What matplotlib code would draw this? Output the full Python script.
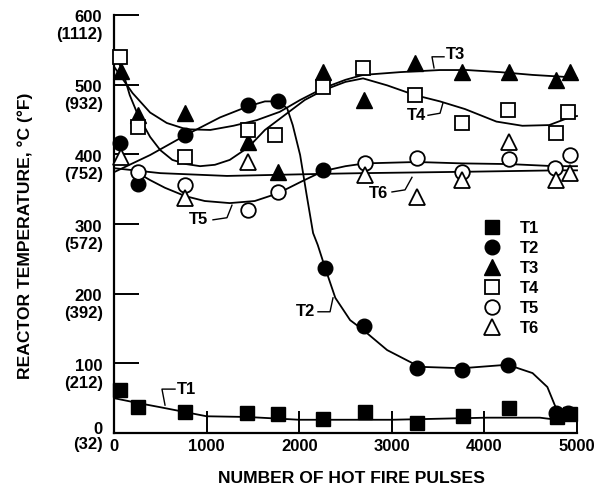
import matplotlib
matplotlib.use("Agg")
import matplotlib.pyplot as plt
import matplotlib.transforms as mtransforms
from matplotlib.lines import Line2D

plt.rcParams['font.family'] = ['Liberation Sans', 'DejaVu Sans']

# ---------------- data ----------------
t1_x = [60, 260, 770, 1440, 1770, 2260, 2710, 3270, 3770, 4270, 4780, 4920]
t1_y = [62, 37, 30, 29, 27, 20, 30, 14, 24, 36, 23, 27]

t2_x = [60, 260, 770, 1450, 1770, 2260, 2280, 2700, 3270, 3760, 4260, 4770, 4900]
t2_y = [416, 357, 428, 471, 476, 377, 237, 154, 93, 90, 97, 29, 29]

t3_x = [80, 260, 770, 1450, 1770, 2260, 2700, 3250, 3760, 4270, 4770, 4920]
t3_y = [519, 456, 459, 418, 375, 518, 478, 531, 518, 518, 507, 518]

t4_x = [60, 260, 770, 1450, 1740, 2260, 2690, 3250, 3760, 4260, 4770, 4900]
t4_y = [540, 439, 396, 435, 428, 497, 524, 485, 445, 464, 430, 461]

t5_x = [260, 770, 1450, 1770, 2710, 3270, 3760, 4270, 4760, 4920]
t5_y = [375, 356, 320, 346, 387, 395, 375, 393, 380, 399]

t6_x = [80, 770, 1450, 2710, 3270, 3760, 4270, 4770, 4920]
t6_y = [396, 337, 389, 370, 339, 363, 418, 363, 373]

# hand-drawn fit curves
c1_x = [0, 260, 500, 770, 1000, 1440, 2000, 2440, 3000, 4030, 4600, 4780]
c1_y = [50, 43, 37, 30, 24, 23, 19, 19, 19, 22, 22, 19]

c2_x = [10, 390, 780, 1145, 1450, 1630, 1770, 1870, 1930, 2010, 2080, 2150, 2200,
        2280, 2390, 2550, 2690, 2950, 3300, 3760, 4250, 4520, 4680, 4760, 4800]
c2_y = [375, 399, 428, 453, 469, 476, 476, 466, 442, 399, 342, 287, 270,
        237, 194, 162, 148, 119, 95, 93, 98, 86, 66, 40, 29]

c3_x = [10, 200, 390, 570, 780, 1040, 1290, 1540, 1790, 2010, 2260, 2500, 2690,
        3090, 3520, 3810, 4170, 4520, 4890, 5000]
c3_y = [524, 488, 460, 445, 436, 435, 441, 449, 461, 478, 495, 507, 514,
        518, 521, 521, 518, 514, 511, 509]

c4_x = [10, 90, 170, 260, 390, 500, 630, 780, 930, 1090, 1250, 1450, 1630, 1870,
        2060, 2260, 2500, 2690, 2950, 3250, 3520, 3790, 4130, 4410, 4700, 4920, 5000]
c4_y = [542, 521, 485, 456, 425, 406, 392, 386, 383, 385, 392, 410, 435, 459,
        478, 492, 504, 509, 499, 485, 476, 465, 447, 441, 442, 453, 455]

c5_x = [260, 390, 550, 770, 980, 1250, 1520, 1770, 2010, 2260, 2500, 2710, 3270,
        3760, 4270, 4760, 5000]
c5_y = [373, 363, 352, 340, 333, 330, 333, 344, 360, 376, 383, 387, 389,
        387, 386, 383, 383]

c6_x = [10, 500, 1220, 2260, 2690, 3810, 4780, 5000]
c6_y = [380, 373, 369, 372, 373, 375, 377, 377]

series_names = ['T1', 'T2', 'T3', 'T4', 'T5', 'T6']

yticks = [0, 100, 200, 300, 400, 500, 600]
ytick_c = ['0', '100', '200', '300', '400', '500', '600']
ytick_f = ['(32)', '(212)', '(392)', '(572)', '(752)', '(932)', '(1112)']
xticks = [0, 1000, 2000, 3000, 4000, 5000]
xtick_labels = ['0', '1000', '2000', '3000', '4000', '5000']

# curve label positions (text anchor, leader polyline)
lab_t1 = (680, 63)
lead_t1 = ([551, 518, 659], [40, 63, 63])
lab_t2 = (2171, 174)
lead_t2 = ([2203, 2333, 2365], [174, 174, 194])
lab_t3 = (3586, 544)
lead_t3 = ([3456, 3434, 3564], [524, 540, 540])
lab_t4 = (3370, 456)
lead_t4 = ([3391, 3521, 3553], [456, 459, 474])
lab_t5 = (1015, 306)
lead_t5 = ([1069, 1220, 1274], [306, 309, 327])
lab_t6 = (2959, 344)
lead_t6 = ([3002, 3143, 3218], [346, 349, 367])

# ---------------- figure ----------------
W, H = 608, 490
fig = plt.figure(figsize=(W / 100, H / 100), dpi=100)
ax = fig.add_axes([114 / W, 1 - 433 / H, (577 - 114) / W, (433 - 15) / H])
ax.set_xlim(0, 5000)
ax.set_ylim(0, 600)
for s in ['top', 'right']:
    ax.spines[s].set_visible(False)
for s in ['left', 'bottom']:
    ax.spines[s].set_linewidth(1.6)
    ax.spines[s].set_color('black')

ax.set_xticks(xticks[1:])
ax.set_xticklabels([])
ax.set_yticks(yticks[1:])
ax.set_yticklabels([])
ax.tick_params(axis='x', direction='in', length=16, width=1.4)
ax.tick_params(axis='y', direction='in', length=18, width=1.4)

fs = 12
fs_lab = 12.6
fw = 'bold'
# x tick labels
for v, t in zip(xticks, xtick_labels):
    ax.text(v, -13 / 418 * 600, t, ha='center', va='center', fontsize=fs, fontweight=fw)

# y tick labels (°C and °F lines)
blend = mtransforms.blended_transform_factory(ax.transAxes, ax.transData)
for v, c, f in zip(yticks, ytick_c, ytick_f):
    if v == 0:
        dy_c, dy_f = -4, 11
    else:
        dy_c, dy_f = 3, 20
    tr_c = blend + mtransforms.ScaledTranslation(-12 / 100, -dy_c / 100, fig.dpi_scale_trans)
    tr_f = blend + mtransforms.ScaledTranslation(-11 / 100, -dy_f / 100, fig.dpi_scale_trans)
    ax.text(0, v, c, transform=tr_c, ha='right', va='center', fontsize=fs, fontweight=fw)
    ax.text(0, v, f, transform=tr_f, ha='right', va='center', fontsize=fs, fontweight=fw)

fig.text(352 / W, 1 - 478 / H, 'NUMBER OF HOT FIRE PULSES', ha='center', va='center',
         fontsize=fs_lab, fontweight=fw)
fig.text(25 / W, 1 - 236 / H, 'REACTOR TEMPERATURE, °C (°F)', ha='center', va='center',
         rotation=90, fontsize=fs_lab, fontweight=fw)

# curves
lw = 1.3
for cx, cy in [(c1_x, c1_y), (c2_x, c2_y), (c3_x, c3_y), (c4_x, c4_y), (c5_x, c5_y), (c6_x, c6_y)]:
    ax.plot(cx, cy, color='black', lw=lw, zorder=2, clip_on=False)

# markers
ms = 10
ax.plot(t1_x, t1_y, ls='none', marker='s', ms=ms, mfc='black', mec='black', zorder=3, clip_on=False)
ax.plot(t2_x, t2_y, ls='none', marker='o', ms=ms + 0.5, mfc='black', mec='black', zorder=3, clip_on=False)
ax.plot(t3_x, t3_y, ls='none', marker='^', ms=ms + 1, mfc='black', mec='black', zorder=3, clip_on=False)
ax.plot(t4_x, t4_y, ls='none', marker='s', ms=ms, mfc='white', mec='black', mew=1.3, zorder=3, clip_on=False)
ax.plot(t5_x, t5_y, ls='none', marker='o', ms=ms + 0.5, mfc='white', mec='black', mew=1.3, zorder=3, clip_on=False)
ax.plot(t6_x, t6_y, ls='none', marker='^', ms=ms + 1, mfc='white', mec='black', mew=1.3, zorder=3, clip_on=False)

# curve labels with leaders
ax.text(*lab_t1, 'T1', ha='left', va='center', fontsize=fs, fontweight=fw)
ax.text(*lab_t2, 'T2', ha='right', va='center', fontsize=fs, fontweight=fw)
ax.text(*lab_t3, 'T3', ha='left', va='center', fontsize=fs, fontweight=fw)
ax.text(*lab_t4, 'T4', ha='right', va='center', fontsize=fs, fontweight=fw)
ax.text(*lab_t5, 'T5', ha='right', va='center', fontsize=fs, fontweight=fw)
ax.text(*lab_t6, 'T6', ha='right', va='center', fontsize=fs, fontweight=fw)
for lx, ly in [lead_t1, lead_t2, lead_t3, lead_t4, lead_t5, lead_t6]:
    ax.plot(lx, ly, color='black', lw=1.0)

# legend
handles = [
    Line2D([], [], ls='none', marker='s', ms=ms, mfc='black', mec='black'),
    Line2D([], [], ls='none', marker='o', ms=ms + 0.5, mfc='black', mec='black'),
    Line2D([], [], ls='none', marker='^', ms=ms + 1, mfc='black', mec='black'),
    Line2D([], [], ls='none', marker='s', ms=ms, mfc='white', mec='black', mew=1.3),
    Line2D([], [], ls='none', marker='o', ms=ms + 0.5, mfc='white', mec='black', mew=1.3),
    Line2D([], [], ls='none', marker='^', ms=ms + 1, mfc='white', mec='black', mew=1.3),
]
leg = ax.legend(handles, series_names, loc='upper left', bbox_to_anchor=(0.78, 0.527),
                frameon=False, handlelength=1.0, handletextpad=1.2, labelspacing=0.3,
                prop={'size': fs, 'weight': fw}, borderpad=0)

fig.savefig('out.png', dpi=100)
